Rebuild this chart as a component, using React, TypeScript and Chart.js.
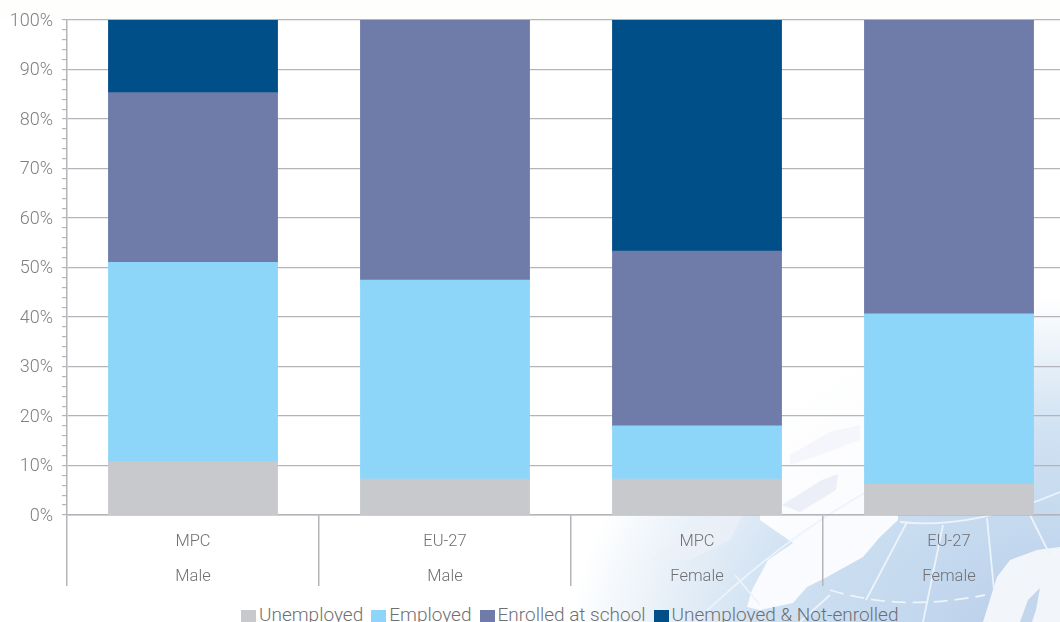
import React, { useEffect, useRef } from "react";
import { Chart, registerables } from "chart.js";

Chart.register(...registerables);

const categories = [["MPC", "Male"], ["EU-27", "Male"], ["MPC", "Female"], ["EU-27", "Female"]];
const unemployed = [10.8, 7.2, 7.2, 6.2];
const employed = [40.2, 40.2, 10.8, 34.4];
const enrolled = [34.3, 52.6, 35.3, 59.4];
const notEnrolled = [14.7, 0, 46.7, 0];
const seriesNames = ["Unemployed", "Employed", "Enrolled at school", "Unemployed & Not-enrolled"];
const seriesColors = ["#c8c9cd", "#8ed6f9", "#6f7ba9", "#004f88"];
const seriesValues = [unemployed, employed, enrolled, notEnrolled];

const FONT = "Roboto, 'Liberation Sans', sans-serif";
const LINE = "#b4b4b9";

function MapBackdrop() {
  return (
    <svg width={1060} height={622} viewBox="0 0 1060 622" style={{ position: "absolute", left: 0, top: 0 }}>
      <defs>
        <radialGradient
          id="sea"
          gradientUnits="userSpaceOnUse"
          cx="1060"
          cy="640"
          r="490"
          gradientTransform="translate(1060 640) scale(1 0.7) translate(-1060 -640)"
        >
          <stop offset="0" stopColor="#b8cae8" />
          <stop offset="0.3" stopColor="#c3d8ee" />
          <stop offset="0.6" stopColor="#cfe1f2" />
          <stop offset="0.82" stopColor="#e8f0f8" />
          <stop offset="1" stopColor="#ffffff" />
        </radialGradient>
        <linearGradient id="ice" gradientUnits="userSpaceOnUse" x1="770" y1="400" x2="850" y2="515">
          <stop offset="0" stopColor="#ffffff" />
          <stop offset="1" stopColor="#fafbfe" />
        </linearGradient>
      </defs>
      <rect width="1060" height="622" fill="#ffffff" />
      <rect width="1060" height="20" fill="#fefefc" />
      <rect x="560" y="290" width="500" height="332" fill="url(#sea)" />
      <path d="M760 290 L880 290 L900 414 L898 520 L880 537 L863 557 L827 577 L807 587 L793 603 L760 610 L747 607 L752 590 L768 560 L793 543 L760 520 Z" fill="url(#ice)" />
      <path d="M782 505 L822 480 L838 474 L836 490 L800 512 Z" fill="#eceff7" />
      <path d="M790 455 L830 432 L860 425 L860 440 L820 455 L790 465 Z" fill="#f4f6fb" />
      <path d="M650 560 L700 520 L745 510 L730 540 L690 560 Z" fill="#ecf0f7" opacity="0.8" />
      <path d="M983 622 L997 577 L1010 560 L1037 550 L1060 547 L1060 622 Z" fill="#f2f6fb" />
      <path d="M1020 622 L1028 600 L1040 588 L1036 610 L1032 622 Z" fill="#c3d6ec" />
      <g stroke="#edf3fa" strokeWidth="1.8" fill="none">
        <path d="M695 622 Q780 540 870 490" />
        <path d="M900 522 Q970 530 1060 492" />
        <path d="M907 522 L866 600" />
        <path d="M943 525 L923 622" />
        <path d="M987 518 L994 590" />
        <path d="M1030 515 L1050 555" />
        <path d="M735 575 L760 605" />
        <path d="M830 590 Q900 612 985 595" strokeDasharray="14 7" />
        <path d="M830 595 L800 622" />
      </g>
    </svg>
  );
}

export default function App() {
  const canvasRef = useRef<HTMLCanvasElement | null>(null);

  useEffect(() => {
    if (!canvasRef.current) return;
    const chart = new Chart(canvasRef.current, {
      type: "bar",
      data: {
        labels: categories,
        datasets: seriesNames.map((name, i) => ({
          label: name,
          data: seriesValues[i],
          backgroundColor: seriesColors[i],
          borderWidth: 0,
          inflateAmount: 0.5,
          barPercentage: 0.67,
          categoryPercentage: 1,
        })),
      },
      options: {
        responsive: false,
        animation: false,
        layout: { padding: { top: 20, left: 0, right: 67, bottom: 0 } },
        plugins: { legend: { display: false }, tooltip: { enabled: false } },
        scales: {
          x: {
            stacked: true,
            afterFit: (s: any) => { s.height = 71; },
            grid: { offset: true, drawOnChartArea: false, tickLength: 71, color: LINE, lineWidth: 1.5, tickColor: LINE },
            border: { color: LINE, width: 1.5 },
            ticks: {
              padding: -62,
              color: "#707074",
              maxRotation: 0,
              autoSkip: false,
              font: { family: FONT, size: 16.5, weight: "300", lineHeight: 2.12 },
            },
          },
          y: {
            stacked: true,
            min: 0,
            max: 100,
            afterFit: (s: any) => { s.width = 67; },
            grid: {
              tickLength: 5,
              color: (c: any) => (c.tick && c.tick.value % 10 === 0 ? LINE : "rgba(0,0,0,0)"),
              tickColor: LINE,
              lineWidth: 1.2,
            },
            border: { color: LINE, width: 1.5 },
            ticks: {
              stepSize: 2,
              autoSkip: false,
              padding: 9,
              labelOffset: 1,
              color: "#808084",
              font: { family: FONT, size: 18, weight: "300" },
              callback: (v: any) => (Number(v) % 10 === 0 ? `${v}%` : ""),
            },
          },
        },
      },
    });
    return () => chart.destroy();
  }, []);

  return (
    <div style={{ position: "absolute", left: 0, top: 0, width: 1060, height: 622, overflow: "hidden", background: "#fff" }}>
      <MapBackdrop />
      <canvas ref={canvasRef} width={1142} height={586} style={{ position: "absolute", left: 0, top: 0, width: 1142, height: 586 }} />
      <div style={{ position: "absolute", left: 241, top: 602, display: "flex", alignItems: "center", whiteSpace: "nowrap", fontFamily: FONT, fontWeight: 300, fontSize: 19, lineHeight: "26px", color: "#6f6f73" }}>
        {seriesNames.map((name, i) => (
          <span key={name} style={{ display: "inline-flex", alignItems: "center", marginRight: 8 }}>
            <span style={{ width: 15, height: 15, marginRight: 3, marginTop: 5, background: seriesColors[i], display: "inline-block" }} />
            {name}
          </span>
        ))}
      </div>
    </div>
  );
}
